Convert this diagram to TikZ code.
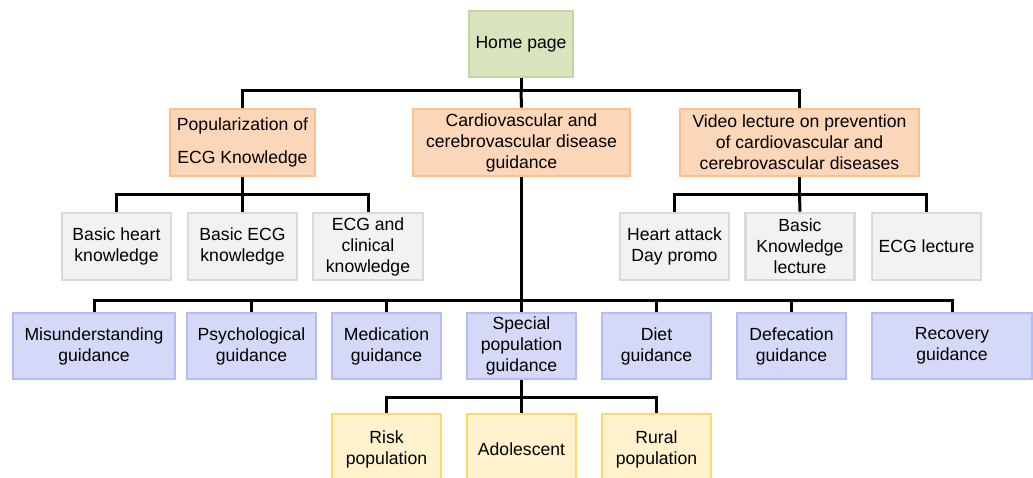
\documentclass[tikz,border=0pt]{standalone}
\usepackage{fontspec}
\setmainfont{Liberation Sans}
\definecolor{gfill}{RGB}{215,228,189}
\definecolor{gdraw}{RGB}{195,214,155}
\definecolor{ofill}{RGB}{251,214,184}
\definecolor{odraw}{RGB}{250,192,144}
\definecolor{kfill}{RGB}{242,242,242}
\definecolor{kdraw}{RGB}{217,217,217}
\definecolor{bfill}{RGB}{213,216,246}
\definecolor{bdraw}{RGB}{180,188,248}
\definecolor{yfill}{RGB}{255,242,204}
\definecolor{ydraw}{RGB}{255,217,102}
\begin{document}
\begin{tikzpicture}[x=1pt,y=-1pt,
  box/.style={draw, line width=2.6pt, inner sep=0pt, align=center,
    font=\fontsize{17.6}{21}\selectfont},
  green/.style={box, fill=gfill, draw=gdraw},
  orange/.style={box, fill=ofill, draw=odraw},
  grey/.style={box, fill=kfill, draw=kdraw},
  blue/.style={box, fill=bfill, draw=bdraw},
  yellow/.style={box, fill=yfill, draw=ydraw},
  link/.style={draw=black, line width=3pt}]
\useasboundingbox (0,0) rectangle (1033,477);
% level 0
\node[green, minimum width=104pt, minimum height=66pt] (home) at (521,44) {Home page};
% level 1
\node[orange, minimum width=145pt, minimum height=67pt, font=\fontsize{17.6}{33}\selectfont] (pop) at (242.5,142.5) {Popularization of\\ECG Knowledge};
\node[orange, minimum width=217pt, minimum height=67pt] (cardio) at (521.5,142.5) {Cardiovascular and\\cerebrovascular disease\\guidance};
\node[orange, minimum width=239pt, minimum height=67pt] (video) at (799.5,142.5) {Video lecture on prevention\\of cardiovascular and\\cerebrovascular diseases};
% level 2 grey
\node[grey, minimum width=109pt, minimum height=67pt] (heart) at (116.5,246.5) {Basic heart\\knowledge};
\node[grey, minimum width=109pt, minimum height=67pt] (becg) at (242.5,246.5) {Basic ECG\\knowledge};
\node[grey, minimum width=110pt, minimum height=67pt] (clin) at (368,246.5) {ECG and\\clinical\\knowledge};
\node[grey, minimum width=109pt, minimum height=67pt] (attack) at (674.5,246.5) {Heart attack\\Day promo};
\node[grey, minimum width=109pt, minimum height=67pt] (bkl) at (800,246.5) {Basic\\Knowledge\\lecture};
\node[grey, minimum width=109pt, minimum height=67pt] (ecgl) at (926.5,246.5) {ECG lecture};
% level 2 blue
\node[blue, minimum width=162pt, minimum height=66pt] (mis) at (94,346) {Misunderstanding\\guidance};
\node[blue, minimum width=129pt, minimum height=66pt] (psy) at (251.5,346) {Psychological\\guidance};
\node[blue, minimum width=109pt, minimum height=66pt] (med) at (386.5,346) {Medication\\guidance};
\node[blue, minimum width=109pt, minimum height=66pt] (spec) at (521.5,346) {Special\\population\\guidance};
\node[blue, minimum width=109pt, minimum height=66pt] (diet) at (656.5,346) {Diet\\guidance};
\node[blue, minimum width=109pt, minimum height=66pt] (def) at (791.5,346) {Defecation\\guidance};
\node[blue, minimum width=160pt, minimum height=66pt] (rec) at (952,346) {Recovery\\guidance};
% level 3 yellow
\node[yellow, minimum width=109pt, minimum height=70pt] (risk) at (386.5,449) {Risk\\population};
\node[yellow, minimum width=109pt, minimum height=70pt] (adol) at (521.5,449) {Adolescent};
\node[yellow, minimum width=109pt, minimum height=70pt] (rural) at (656.5,449) {Rural\\population};
% connectors
\coordinate (j0) at (521,90);
\draw[link] (home.south) -- (j0);
\draw[link] (pop.north) |- (j0) -| (video.north);
\draw[link] (j0) -- (cardio.north);
\coordinate (j1) at (242.5,194);
\draw[link] (pop.south) -- (j1);
\draw[link] (heart.north) |- (j1) -| (clin.north);
\draw[link] (j1) -- (becg.north);
\coordinate (j2) at (799.5,194);
\draw[link] (video.south) -- (j2);
\draw[link] (attack.north) |- (j2) -| (ecgl.north);
\draw[link] (j2) -- (bkl.north);
\coordinate (j3) at (521.5,300);
\draw[link] (cardio.south) -- (spec.north);
\draw[link] (mis.north) |- (j3) -| (rec.north);
\draw[link] (psy.north) -- (psy.north |- j3);
\draw[link] (med.north) -- (med.north |- j3);
\draw[link] (diet.north) -- (diet.north |- j3);
\draw[link] (def.north) -- (def.north |- j3);
\coordinate (j4) at (521.5,397);
\draw[link] (spec.south) -- (adol.north);
\draw[link] (risk.north) |- (j4) -| (rural.north);
\end{tikzpicture}
\end{document}
